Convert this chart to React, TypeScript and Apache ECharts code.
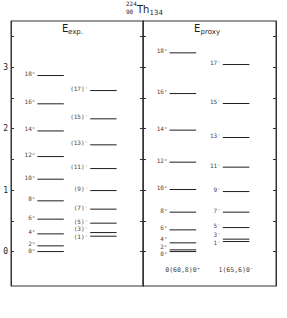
import React, { useEffect, useRef } from "react";
import * as echarts from "echarts";

// Level energies (MeV)
const posSpins = [0, 2, 4, 6, 8, 10, 12, 14, 16, 18];
const negSpins = [1, 3, 5, 7, 9, 11, 13, 15, 17];
const expPos = [0, 0.093, 0.288, 0.527, 0.825, 1.177, 1.545, 1.962, 2.403, 2.863];
const expNeg = [0.25, 0.309, 0.462, 0.69, 0.992, 1.35, 1.736, 2.159, 2.619];
const proxyPos = [0, 0.028, 0.142, 0.353, 0.641, 1.009, 1.454, 1.975, 2.57, 3.232];
const proxyNeg = [0.163, 0.202, 0.39, 0.641, 0.976, 1.373, 1.855, 2.408, 3.042];
const bandNames = ["0(60,8)0\u207A", "1(65,6)0\u207B"];
const yLabelValues = [0, 1, 2, 3];
const yTickValues = [0, 0.5, 1, 1.5, 2, 2.5, 3, 3.5];

const MONO = "DejaVu Sans Mono";
const SANS = "DejaVu Sans";
const INK = "#1e1e1e";
const FRAME = "#333333";

function spread(v: number[], d: number): number[] {
  const l = v.slice();
  for (let k = 0; k < 80; k++) {
    for (let i = 0; i < l.length - 1; i++) {
      const gap = l[i + 1] - l[i];
      if (gap < d) {
        const s = (d - gap) / 2;
        l[i] -= s;
        l[i + 1] += s;
      }
    }
  }
  return l;
}

function makeSeries(g: number, col: number, energies: number[], labels: string[]) {
  const lab = spread(energies, 0.12);
  const data = energies.map((e, i) => [col, e, lab[i]]);
  const xs = col === 0 ? [0.2, 0.4] : [0.6, 0.8];
  return {
    type: "custom",
    xAxisIndex: g,
    yAxisIndex: g === 0 ? 0 : 2,
    data,
    encode: { x: 0, y: 1 },
    clip: false,
    silent: true,
    renderItem: (params: any, api: any) => {
      const e = api.value(1);
      const le = api.value(2);
      const p0 = api.coord([xs[0], e]);
      const p1 = api.coord([xs[1], e]);
      const pl = api.coord([xs[0], le]);
      return {
        type: "group",
        children: [
          {
            type: "line",
            shape: { x1: p0[0], y1: p0[1], x2: p1[0], y2: p1[1] },
            style: { stroke: INK, lineWidth: 1 },
          },
          {
            type: "text",
            x: pl[0] - 2,
            y: pl[1] - 2,
            style: {
              text: labels[params.dataIndex],
              fontSize: 6,
              fontFamily: MONO,
              fill: "#444",
              align: "right",
              verticalAlign: "middle",
            },
          },
        ],
      };
    },
  };
}

const yBase = {
  type: "value",
  min: -0.56,
  max: 3.75,
  splitLine: { show: false },
  axisLine: { show: true, lineStyle: { color: FRAME, width: 1 } },
  axisTick: {
    show: true,
    inside: true,
    length: 3,
    customValues: yTickValues,
    lineStyle: { color: FRAME, width: 1 },
  },
};

export default function App() {
  const ref = useRef<HTMLDivElement>(null);
  useEffect(() => {
    if (!ref.current) return;
    const chart = echarts.init(ref.current, undefined, { renderer: "svg" });
    const expPosLabels = posSpins.map((s) => `${s}\u207A`);
    const expNegLabels = negSpins.map((s) => `(${s})\u207B`);
    const proxyPosLabels = posSpins.map((s) => `${s}\u207A`);
    const proxyNegLabels = negSpins.map((s) => `${s}\u207B`);
    const gTop = 21;
    const gH = 265;
    const g1Left = 143;
    const g1W = 133;
    chart.setOption({
      animation: false,
      backgroundColor: "#ffffff",
      grid: [
        { left: 11, top: gTop, width: 132, height: gH, show: true, borderColor: FRAME, borderWidth: 1, backgroundColor: "transparent" },
        { left: g1Left, top: gTop, width: g1W, height: gH, show: true, borderColor: FRAME, borderWidth: 1, backgroundColor: "transparent" },
      ],
      xAxis: [
        { type: "value", gridIndex: 0, min: 0, max: 1, show: false },
        { type: "value", gridIndex: 1, min: 0, max: 1, show: false },
      ],
      yAxis: [
        {
          ...yBase,
          gridIndex: 0,
          position: "left",
          axisLabel: {
            show: true,
            customValues: yLabelValues,
            fontSize: 8,
            fontFamily: MONO,
            color: INK,
            margin: 3,
          },
        },
        { ...yBase, gridIndex: 0, position: "right", axisLabel: { show: false } },
        { ...yBase, gridIndex: 1, position: "left", axisLabel: { show: false } },
        { ...yBase, gridIndex: 1, position: "right", axisLabel: { show: false } },
      ],
      series: [
        makeSeries(0, 0, expPos, expPosLabels),
        makeSeries(0, 1, expNeg, expNegLabels),
        makeSeries(1, 0, proxyPos, proxyPosLabels),
        makeSeries(1, 1, proxyNeg, proxyNegLabels),
      ],
      graphic: [
        // title: 224/90 Th 134
        { type: "text", x: 126, y: 3.5, style: { text: "224", fontSize: 6, fontFamily: MONO, fill: INK, verticalAlign: "middle" } },
        { type: "text", x: 126, y: 11.5, style: { text: "90", fontSize: 6, fontFamily: MONO, fill: INK, verticalAlign: "middle" } },
        { type: "text", x: 137, y: 9, style: { text: "Th", fontSize: 10, fontFamily: SANS, fill: INK, verticalAlign: "middle" } },
        { type: "text", x: 149.5, y: 13, style: { text: "134", fontSize: 7, fontFamily: SANS, fill: INK, verticalAlign: "middle" } },
        // panel headers
        { type: "text", x: 62, y: 28, style: { text: "E", fontSize: 10, fontFamily: SANS, fill: INK, verticalAlign: "middle" } },
        { type: "text", x: 68, y: 31.5, style: { text: "exp.", fontSize: 7, fontFamily: SANS, fill: INK, verticalAlign: "middle" } },
        { type: "text", x: 194, y: 28, style: { text: "E", fontSize: 10, fontFamily: SANS, fill: INK, verticalAlign: "middle" } },
        { type: "text", x: 200.5, y: 31.5, style: { text: "proxy", fontSize: 7, fontFamily: SANS, fill: INK, verticalAlign: "middle" } },
        // band names
        { type: "text", x: g1Left + g1W * 0.3, y: 270, style: { text: bandNames[0], fontSize: 6.5, fontFamily: MONO, fill: "#444", align: "center", verticalAlign: "middle" } },
        { type: "text", x: g1Left + g1W * 0.7, y: 270, style: { text: bandNames[1], fontSize: 6.5, fontFamily: MONO, fill: "#444", align: "center", verticalAlign: "middle" } },
      ],
    } as any);
    return () => chart.dispose();
  }, []);
  return (
    <div
      ref={ref}
      style={{ position: "fixed", left: 0, top: 0, width: 287, height: 318, background: "#fff" }}
    />
  );
}
